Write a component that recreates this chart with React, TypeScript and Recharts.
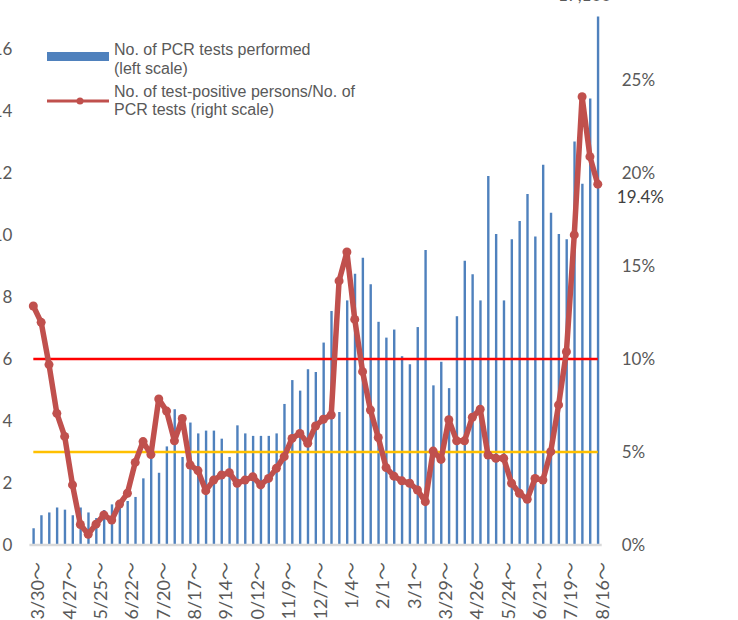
import {
  Bar,
  ComposedChart,
  Legend,
  Line,
  ReferenceLine,
  XAxis,
  YAxis,
} from "recharts";

// week starting dates, 2020/3/30 ~ 2021/8/16
const weeks = [
  "3/30", "4/6", "4/13", "4/20", "4/27", "5/4", "5/11", "5/18", "5/25",
  "6/1", "6/8", "6/15", "6/22", "6/29", "7/6", "7/13", "7/20", "7/27",
  "8/3", "8/10", "8/17", "8/24", "8/31", "9/7", "9/14", "9/21", "9/28",
  "10/5", "10/12", "10/19", "10/26", "11/2", "11/9", "11/16", "11/23",
  "11/30", "12/7", "12/14", "12/21", "12/28", "1/4", "1/11", "1/18",
  "1/25", "2/1", "2/8", "2/15", "2/22", "3/1", "3/8", "3/15", "3/22",
  "3/29", "4/5", "4/12", "4/19", "4/26", "5/3", "5/10", "5/17", "5/24",
  "5/31", "6/7", "6/14", "6/21", "6/28", "7/5", "7/12", "7/19", "7/26",
  "8/2", "8/9", "8/16",
];

// No. of PCR tests performed (left scale)
const pcrTests = [
  0.54, 0.96, 1.05, 1.21, 1.14, 0.96, 1.21, 1.05, 0.87, 1.13, 1.31, 1.36,
  1.42, 1.55, 2.15, 2.82, 2.33, 3.18, 4.38, 2.84, 3.95, 3.6, 3.69, 3.69,
  3.43, 2.84, 3.86, 3.6, 3.52, 3.52, 3.52, 3.6, 4.55, 5.32, 4.98, 5.67,
  5.58, 6.53, 7.55, 4.29, 7.89, 8.75, 9.27, 8.41, 7.2, 6.69, 6.95, 6.09,
  5.83, 7.03, 9.52, 5.15, 5.91, 5.06, 7.38, 9.17, 8.73, 7.89, 11.9, 10.03,
  7.89, 9.86, 10.45, 11.32, 9.95, 12.27, 10.72, 10.03, 9.86, 13.02, 11.65,
  14.4, 17.05,
];

// test-positive persons / PCR tests, % (right scale)
const positiveRate = [
  12.85, 11.97, 9.7, 7.08, 5.84, 3.23, 1.1, 0.58, 1.12, 1.61, 1.34, 2.2,
  2.78, 4.44, 5.56, 4.86, 7.85, 7.2, 5.6, 6.8, 4.3, 4.0, 2.92, 3.49, 3.76,
  3.89, 3.32, 3.49, 3.67, 3.23, 3.58, 4.12, 4.75, 5.73, 6.0, 5.47, 6.4,
  6.76, 6.99, 14.2, 15.75, 12.13, 9.32, 7.26, 5.78, 4.16, 3.7, 3.45, 3.32,
  2.96, 2.33, 5.05, 4.6, 6.74, 5.6, 5.6, 6.87, 7.3, 4.84, 4.66, 4.66, 3.32,
  2.78, 2.46, 3.58, 3.49, 5.02, 7.53, 10.39, 16.67, 24.1, 20.88, 19.4,
];

const leftTicks = [0, 2, 4, 6, 8, 10, 12, 14, 16, 18];
const rightTicks = [0, 5, 10, 15, 20, 25, 30];
const cautionLevel = 5;
const alertLevel = 10;

const data = weeks.map((week, i) => ({
  week,
  tests: pcrTests[i],
  rate: positiveRate[i],
}));

const tickFont = { fontFamily: "Lato", fontSize: 17, fill: "#595959" };
const legendFont = {
  fontFamily: "'Liberation Sans', Arial, sans-serif",
  fontSize: 16,
  color: "#595959",
  lineHeight: "19px",
};

function WeekTick({ x, y, payload }: any) {
  const ax = x + 11;
  const ay = y + 9;
  return (
    <text
      x={ax}
      y={ay}
      transform={`rotate(-90 ${ax} ${ay})`}
      textAnchor="end"
      {...tickFont}
      fontSize={18}
      fontFamily="Lato, 'Noto Sans CJK JP'"
    >
      {payload.value}～
    </text>
  );
}

function LastRateLabel(props: any) {
  const { x, y, value, index } = props;
  if (index !== positiveRate.length - 1) return <g />;
  return (
    <text x={x + 19} y={y + 13} dy="0.35em" {...tickFont} fill="#404040">
      {Number(value).toFixed(1)}%
    </text>
  );
}

function ChartLegend() {
  return (
    <div style={{ position: "relative", width: 340, height: 90, ...legendFont }}>
      <div
        style={{
          position: "absolute",
          left: 7,
          top: 14,
          width: 62,
          height: 9,
          background: "#4f81bd",
        }}
      />
      <div style={{ position: "absolute", left: 74, top: 2, whiteSpace: "nowrap" }}>
        No. of PCR tests performed
        <br />
        (left scale)
      </div>
      <svg
        style={{ position: "absolute", left: 7, top: 58 }}
        width={62}
        height={10}
      >
        <line x1={0} y1={5} x2={62} y2={5} stroke="#c0504d" strokeWidth={3} />
        <circle cx={33} cy={5} r={3.5} fill="#c0504d" />
      </svg>
      <div
        style={{
          position: "absolute",
          left: 74,
          top: 45,
          whiteSpace: "nowrap",
          lineHeight: "18px",
        }}
      >
        No. of test-positive persons/No. of
        <br />
        PCR tests (right scale)
      </div>
    </div>
  );
}

export default function App() {
  return (
    <div
      style={{
        position: "absolute",
        left: 0,
        top: 0,
        width: 738,
        height: 620,
        overflow: "hidden",
        background: "#fff",
      }}
    >
      <div style={{ position: "absolute", left: -40, top: -40 }}>
        <ComposedChart
          width={778}
          height={660}
          data={data}
          margin={{ top: 27, right: 0, bottom: 0, left: 0 }}
        >
          <XAxis
            dataKey="week"
            interval={3}
            height={75}
            tickLine={false}
            axisLine={{ stroke: "#d9d9d9", strokeWidth: 2.5 }}
            tick={<WeekTick />}
          />
          <YAxis
            yAxisId="left"
            width={69.4}
            domain={[0, 18]}
            ticks={leftTicks}
            axisLine={false}
            tickLine={false}
            tickMargin={11}
            tick={tickFont}
          />
          <YAxis
            yAxisId="right"
            orientation="right"
            width={136.3}
            domain={[0, 30]}
            ticks={rightTicks}
            axisLine={false}
            tickLine={false}
            tickMargin={14}
            tick={{ ...tickFont, textAnchor: "start" }}
            tickFormatter={(v) => `${v}%`}
          />
          <Legend
            layout="vertical"
            align="center"
            verticalAlign="middle"
            wrapperStyle={{ left: 80, top: 78, width: 340, height: 90 }}
            content={<ChartLegend />}
          />
          <Bar
            yAxisId="left"
            dataKey="tests"
            name="No. of PCR tests performed (left scale)"
            fill="#4f81bd"
            barSize={2.4}
            isAnimationActive={false}
          />
          <ReferenceLine
            yAxisId="right"
            segment={[
              { x: weeks[0], y: alertLevel },
              { x: weeks[weeks.length - 1], y: alertLevel },
            ]}
            stroke="#ff0000"
            strokeWidth={2.5}
          />
          <ReferenceLine
            yAxisId="right"
            segment={[
              { x: weeks[0], y: cautionLevel },
              { x: weeks[weeks.length - 1], y: cautionLevel },
            ]}
            stroke="#ffc000"
            strokeWidth={2.5}
          />
          <Line
            yAxisId="right"
            dataKey="rate"
            name="No. of test-positive persons/No. of PCR tests (right scale)"
            type="linear"
            stroke="#c0504d"
            strokeWidth={5.5}
            strokeLinejoin="round"
            dot={{ r: 4.5, fill: "#c0504d", stroke: "none" }}
            activeDot={false}
            label={<LastRateLabel />}
            isAnimationActive={false}
          />
        </ComposedChart>
      </div>
      <div
        style={{
          position: "absolute",
          left: 558,
          top: -16,
          ...tickFont,
          color: "#595959",
        }}
      >
        17,100
      </div>
    </div>
  );
}
